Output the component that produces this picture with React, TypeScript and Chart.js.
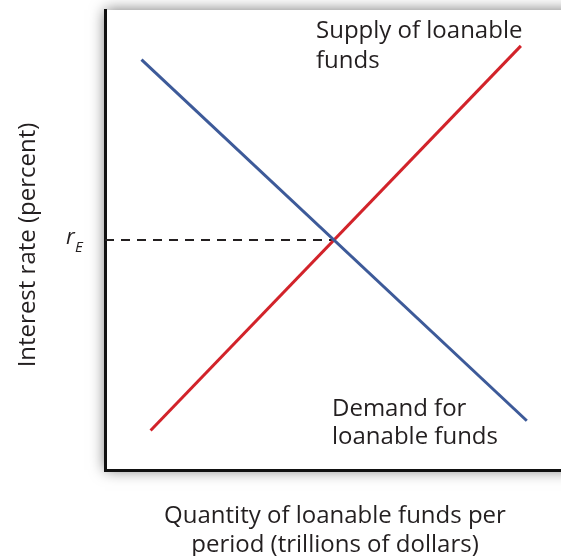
import React, { useEffect, useRef } from "react";
import { Chart, registerables } from "chart.js";

Chart.register(...registerables);

// Data (arbitrary units on 0–100 axes)
const demandQ = [8, 92.5];
const demandRate = [89.2, 10.7];
const supplyQ = [10, 91.2];
const supplyRate = [8.6, 92.2];
const equilibriumQ = 50;
const equilibriumRate = 50;

const xTitleLines = ["Quantity of loanable funds per", "period (trillions of dollars)"];
const yTitle = "Interest rate (percent)";
const supplyLabel = ["Supply of loanable", "funds"];
const demandLabel = ["Demand for", "loanable funds"];

const FONT = '"Open Sans", "DejaVu Sans", sans-serif';
const TEXT_COLOR = "#231f20";

const shadowPlugin = {
  id: "boxShadow",
  beforeDraw(chart: any) {
    const { ctx, chartArea } = chart;
    ctx.save();
    ctx.fillStyle = "#ffffff";
    ctx.shadowColor = "rgba(0,0,0,0.55)";
    ctx.shadowBlur = 14;
    ctx.fillRect(chartArea.left, chartArea.top, chartArea.right - chartArea.left + 40, chartArea.bottom - chartArea.top);
    ctx.restore();
  },
};

const textPlugin = {
  id: "texts",
  afterDraw(chart: any) {
    const { ctx, chartArea, scales } = chart;
    ctx.save();
    ctx.fillStyle = TEXT_COLOR;
    ctx.textBaseline = "alphabetic";
    // x title
    ctx.font = `24px ${FONT}`;
    ctx.textAlign = "center";
    const cx = 335;
    ctx.fillText(xTitleLines[0], cx, chartArea.bottom + 53);
    ctx.fillText(xTitleLines[1], cx, chartArea.bottom + 82);
    // y title
    ctx.save();
    ctx.translate(35, 245);
    ctx.rotate(-Math.PI / 2);
    ctx.textAlign = "center";
    ctx.fillText(yTitle, 0, 0);
    ctx.restore();
    // r_E label
    const yE = scales.y.getPixelForValue(equilibriumRate);
    ctx.textAlign = "left";
    ctx.font = `italic 22px ${FONT}`;
    ctx.fillText("r", 66, yE + 4);
    ctx.font = `italic 15px ${FONT}`;
    ctx.fillText("E", 75, yE + 12);
    // annotations
    ctx.font = `24px ${FONT}`;
    ctx.fillText(supplyLabel[0], 316, 38);
    ctx.fillText(supplyLabel[1], 316, 68);
    ctx.fillText(demandLabel[0], 332, 416);
    ctx.fillText(demandLabel[1], 332, 444);
    ctx.restore();
  },
};

export default function App() {
  const ref = useRef<HTMLCanvasElement>(null);
  useEffect(() => {
    if (!ref.current) return;
    const chart = new Chart(ref.current, {
      type: "scatter",
      data: {
        datasets: [
          {
            label: "Demand for loanable funds",
            data: demandQ.map((q, i) => ({ x: q, y: demandRate[i] })),
            showLine: true,
            borderColor: "#3d5a99",
            borderWidth: 3,
            pointRadius: 0,
          },
          {
            label: "Supply of loanable funds",
            data: supplyQ.map((q, i) => ({ x: q, y: supplyRate[i] })),
            showLine: true,
            borderColor: "#d2232a",
            borderWidth: 3,
            pointRadius: 0,
          },
          {
            label: "Equilibrium rate",
            data: [
              { x: 0, y: equilibriumRate },
              { x: equilibriumQ, y: equilibriumRate },
            ],
            showLine: true,
            borderColor: "#231f20",
            borderWidth: 2,
            borderDash: [9, 7],
            pointRadius: 0,
          },
        ],
      },
      options: {
        animation: false,
        responsive: false,
        maintainAspectRatio: false,
        layout: { padding: { left: 105, top: 10, right: 0, bottom: 86 } },
        plugins: { legend: { display: false }, tooltip: { enabled: false } },
        scales: {
          x: {
            type: "linear",
            min: 0,
            max: 100,
            grid: { display: false, drawTicks: false },
            ticks: { display: false },
            border: { display: true, color: "#111111", width: 3 },
          },
          y: {
            type: "linear",
            min: 0,
            max: 100,
            grid: { display: false, drawTicks: false },
            ticks: { display: false },
            border: { display: true, color: "#111111", width: 3 },
          },
        },
      },
      plugins: [shadowPlugin, textPlugin],
    });
    return () => chart.destroy();
  }, []);
  return (
    <div style={{ position: "fixed", left: 0, top: 0, width: 561, height: 556, background: "#fff" }}>
      <canvas ref={ref} width={561} height={556} style={{ display: "block" }} />
    </div>
  );
}
